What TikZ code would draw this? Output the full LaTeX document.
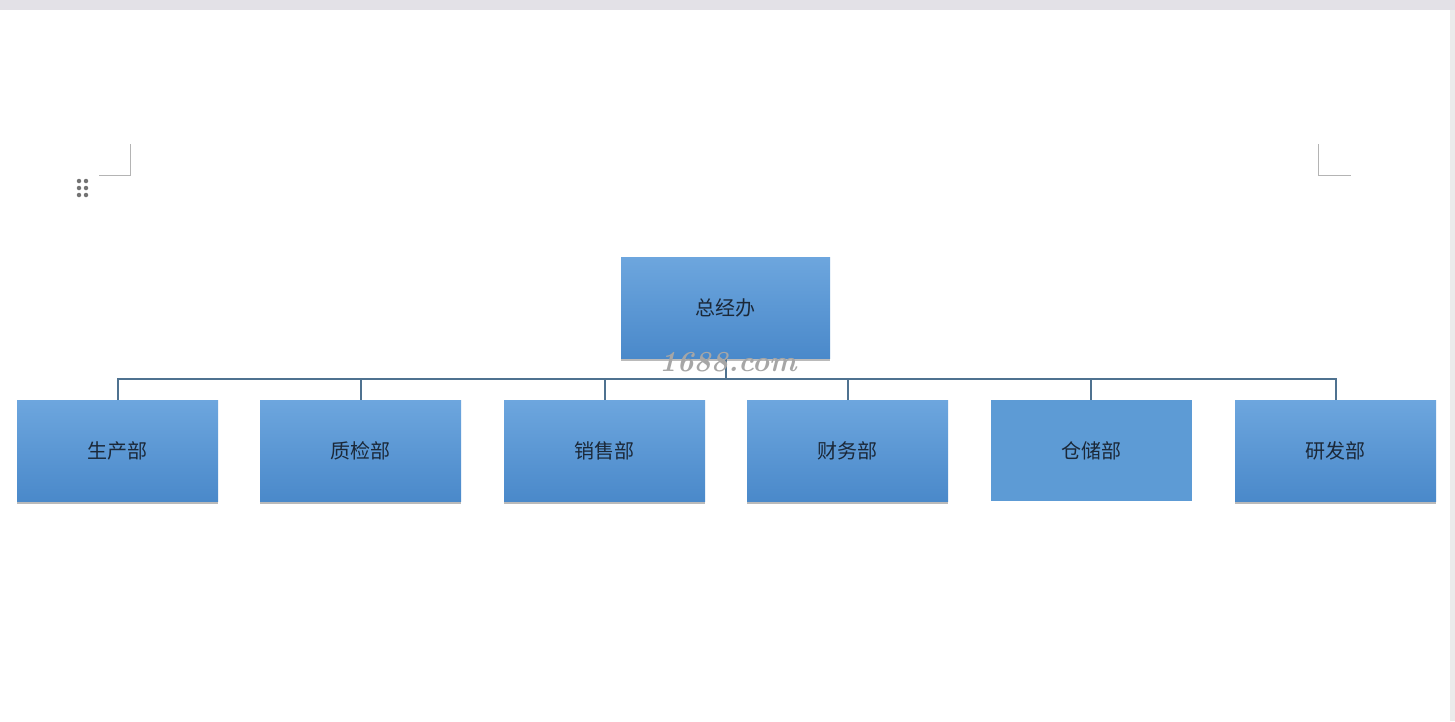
\documentclass[tikz,border=0pt]{standalone}
\usepackage{fontspec}
\newfontfamily\cjk{Noto Sans CJK SC}
\usetikzlibrary{shadows}
\definecolor{boxtop}{HTML}{6DA6DE}
\definecolor{boxbot}{HTML}{4A89CA}
\definecolor{flatbox}{HTML}{5D9BD5}
\definecolor{linecol}{HTML}{4F7290}
\definecolor{txtcol}{HTML}{1B2838}
\definecolor{band}{HTML}{E3E1E7}
\definecolor{markcol}{HTML}{B4B4B4}
\tikzset{
  orgbox/.style={draw=none, minimum width=201pt, minimum height=101pt, inner sep=0pt,
    top color=boxtop, bottom color=boxbot,
    drop shadow={shadow xshift=0pt, shadow yshift=-3pt, opacity=0.45, fill=black!60},
    font=\cjk\fontsize{20}{24}\selectfont, text=txtcol},
  flatorgbox/.style={draw=none, minimum width=201pt, minimum height=101pt, inner sep=0pt,
    fill=flatbox, font=\cjk\fontsize{20}{24}\selectfont, text=txtcol},
  link/.style={draw=linecol, line width=2pt},
  cornermark/.style={draw=markcol, line width=0.8pt},
  dot/.style={circle, fill=black!55, inner sep=0pt, minimum size=4.5pt}
}
\begin{document}
\begin{tikzpicture}[x=1pt,y=-1pt]
\useasboundingbox (0,0) rectangle (1455,721);
\fill[white] (0,0) rectangle (1455,721);
\fill[band] (0,0) rectangle (1455,10);
\fill[black!8] (1450,10) rectangle (1455,721);
% corner marks
\draw[cornermark] (99,175) -- (130,175) -- (130,144);
\draw[cornermark] (1318,144) -- (1318,175) -- (1351,175);
\foreach \yy [count=\i] in {181,188,195}{
  \node[dot] (dl\i) at (79,\yy) {};
  \node[dot] (dr\i) at (86,\yy) {};
}
% boxes
\node[orgbox, minimum width=209pt] (top) at (725.5,307.5) {总经办};
\node[orgbox] (c1) at (117.5,450.5) {生产部};
\node[orgbox] (c2) at (360.5,450.5) {质检部};
\node[orgbox] (c3) at (604.5,450.5) {销售部};
\node[orgbox] (c4) at (847.5,450.5) {财务部};
\node[flatorgbox] (c5) at (1091,450.5) {仓储部};
\node[orgbox] (c6) at (1335.5,450.5) {研发部};
% connectors
\coordinate (bus) at (726,379);
\draw[link] (c1.north) |- (c6.north |- bus) -- (c6.north);
\foreach \c in {c2,c3,c4,c5}{\draw[link] (\c.north) -- (\c.north |- bus);}
\draw[link] (top.south) -- (top.south |- bus);
% watermark
\node[font=\fontsize{29}{32}\selectfont\itshape\bfseries, text=black!35, inner sep=0pt] (wm) at (728,362) {1688.com};
\end{tikzpicture}
\end{document}
